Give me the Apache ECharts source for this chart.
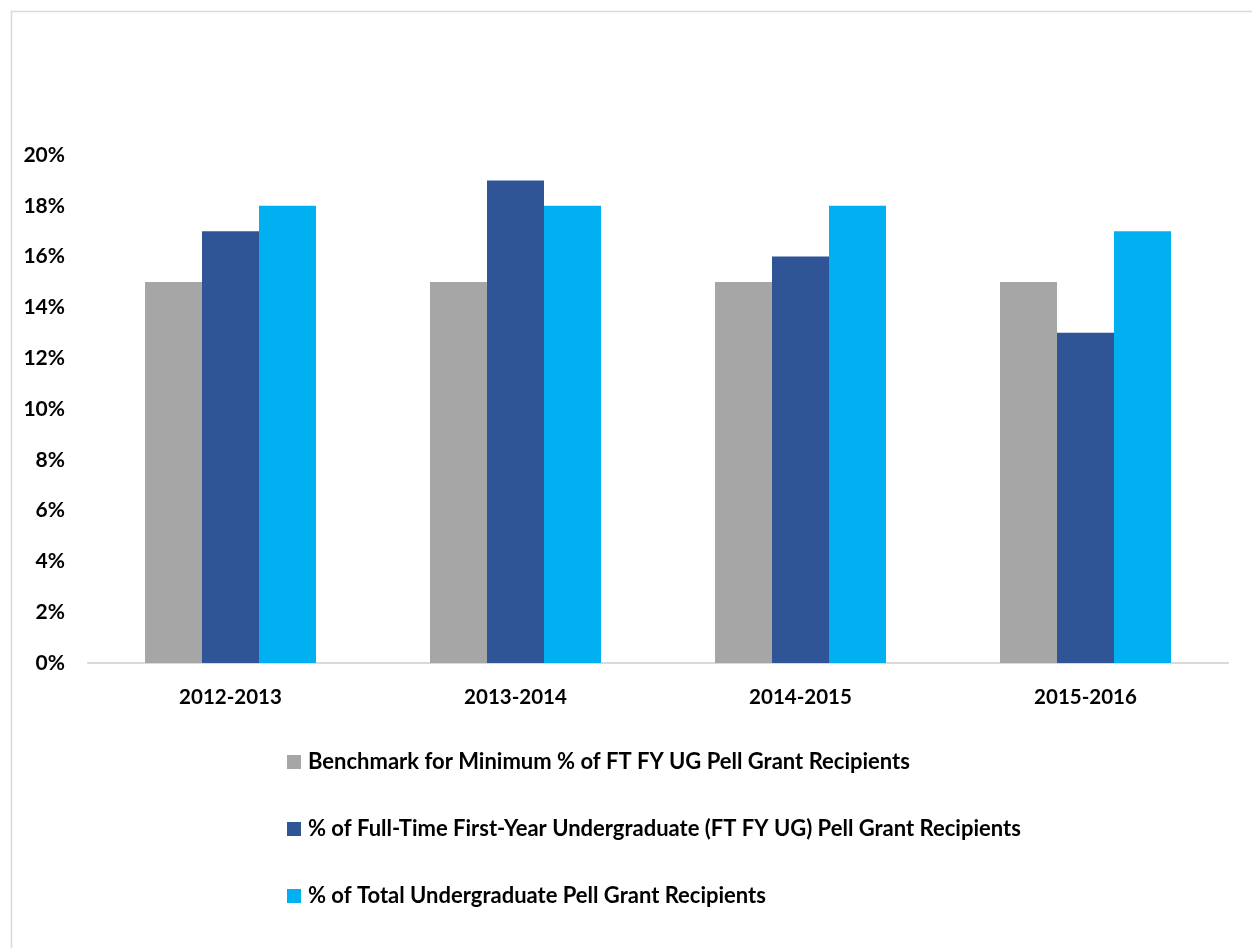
<!DOCTYPE html>
<html>
<head>
<meta charset="utf-8">
<script src="https://cdn.jsdelivr.net/npm/echarts@6/dist/echarts.min.js"></script>
<style>html,body{margin:0;padding:0;background:#fff;}#c{width:1252px;height:948px;}</style>
</head>
<body>
<div id="c"></div>
<script>
const categories = ['2012-2013', '2013-2014', '2014-2015', '2015-2016'];
const seriesNames = [
  'Benchmark for Minimum % of FT FY UG Pell Grant Recipients',
  '% of Full-Time First-Year Undergraduate (FT FY UG) Pell Grant Recipients',
  '% of Total Undergraduate Pell Grant Recipients'
];
const benchmark = [15, 15, 15, 15];
const ftfyPell = [17, 19, 16, 13];
const totalPell = [18, 18, 18, 17];
const colors = ['#A6A6A6', '#2F5597', '#00B0F0'];
const FONT = 'Lato, "Open Sans", sans-serif';

const chart = echarts.init(document.getElementById('c'), null, {renderer: 'canvas'});
chart.setOption({
  backgroundColor: '#fff',
  animation: false,
  graphic: [{
    type: 'rect', left: 9, top: 9,
    shape: {width: 1300, height: 1000},
    style: {fill: 'none', stroke: '#d9d9d9', lineWidth: 1.5}
  }],
  grid: {left: 88, right: 24, top: 155, bottom: 285},
  legend: {
    orient: 'vertical', left: 282, top: 746, itemGap: 45,
    itemWidth: 14, itemHeight: 14, icon: 'rect',
    textStyle: {fontFamily: FONT, fontWeight: 'bold', fontSize: 22, color: '#000', padding: [0, 0, 0, 2]},
    data: seriesNames
  },
  xAxis: {
    type: 'category', data: categories,
    axisLine: {lineStyle: {color: '#d9d9d9', width: 2}},
    axisTick: {show: false},
    axisLabel: {fontFamily: FONT, fontWeight: 'bold', fontSize: 20.5, color: '#000', margin: 24}
  },
  yAxis: {
    type: 'value', min: 0, max: 20, interval: 2,
    axisLine: {show: false}, axisTick: {show: false}, splitLine: {show: false},
    axisLabel: {formatter: '{value}%', fontFamily: FONT, fontWeight: 'bold', fontSize: 21, color: '#000', margin: 23}
  },
  series: [
    {name: seriesNames[0], type: 'bar', data: benchmark, barWidth: 57, barGap: '0%', itemStyle: {color: colors[0]}},
    {name: seriesNames[1], type: 'bar', data: ftfyPell, barWidth: 57, barGap: '0%', itemStyle: {color: colors[1]}},
    {name: seriesNames[2], type: 'bar', data: totalPell, barWidth: 57, barGap: '0%', itemStyle: {color: colors[2]}}
  ]
});
</script>
</body>
</html>
